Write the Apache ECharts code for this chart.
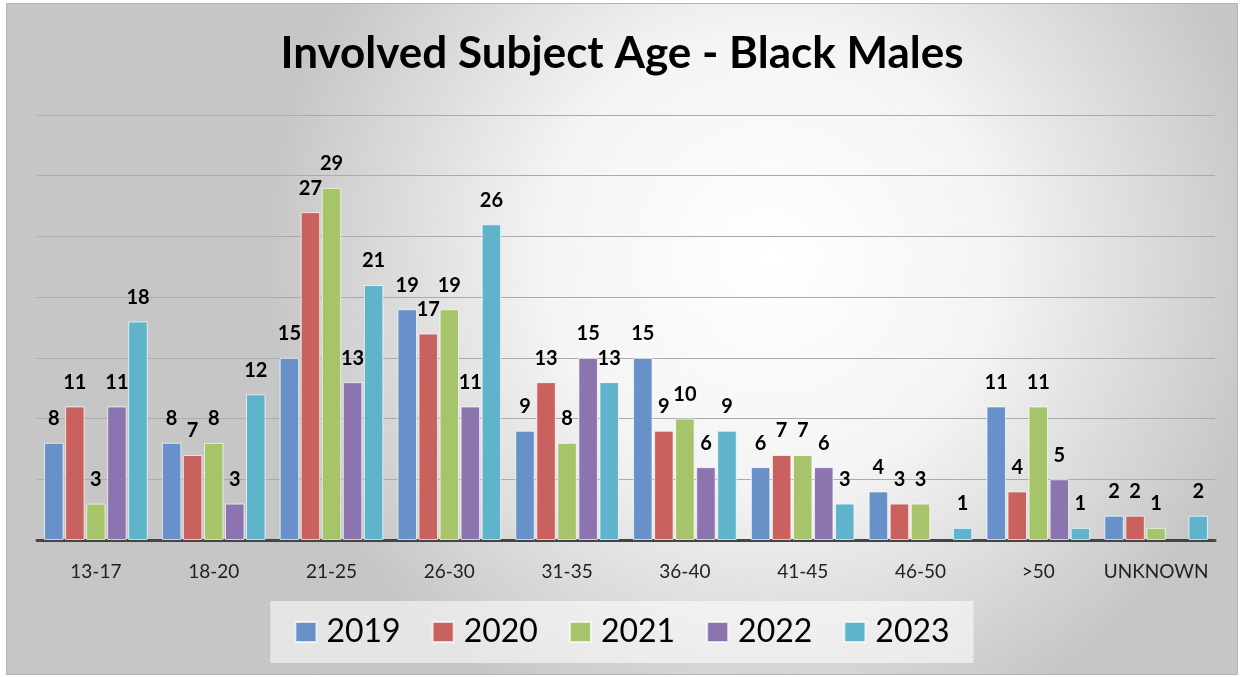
<!DOCTYPE html>
<html>
<head>
<meta charset="utf-8">
<script src="https://cdn.jsdelivr.net/npm/echarts@6/dist/echarts.min.js"></script>
<style>
  html, body { margin: 0; padding: 0; background: #ffffff; }
  #chart { width: 1244px; height: 677px; }
</style>
</head>
<body>
<div id="chart"></div>
<script>
// age groups on the x axis
const ageGroups = ['13-17', '18-20', '21-25', '26-30', '31-35', '36-40', '41-45', '46-50', '>50', 'UNKNOWN'];
const years = ['2019', '2020', '2021', '2022', '2023'];

// counts per year (null = no bar)
const y2019 = [8, 8, 15, 19, 9, 15, 6, 4, 11, 2];
const y2020 = [11, 7, 27, 17, 13, 9, 7, 3, 4, 2];
const y2021 = [3, 8, 29, 19, 8, 10, 7, 3, 11, 1];
const y2022 = [11, 3, 13, 11, 15, 6, 6, null, 5, null];
const y2023 = [18, 12, 21, 26, 13, 9, 3, 1, 1, 2];

const yearColors = ['#6791c8', '#c9625f', '#a6c46a', '#8c74ae', '#5fb4cb'];
const allValues = [y2019, y2020, y2021, y2022, y2023];

let chart = echarts.init(document.getElementById('chart'));

const series = years.map((name, i) => ({
    name: name,
    type: 'bar',
    data: allValues[i],
    barGap: '8%',
    barCategoryGap: '12%',
    itemStyle: {
        color: yearColors[i],
        borderColor: 'rgba(255,255,255,0.7)',
        borderWidth: 1
    },
    label: {
        show: true,
        position: 'top',
        distance: 14,
        color: '#000',
        fontFamily: 'Lato',
        fontWeight: 'bold',
        fontSize: 20
    }
}));

chart.setOption({
    animation: false,
    // frame with the soft grey radial background
    graphic: [{
        type: 'rect',
        z: -10,
        silent: true,
        shape: { x: 6.5, y: 3.5, width: 1231, height: 671 },
        style: {
            fill: {
                type: 'radial', x: 0.62, y: 0.38, r: 0.75,
                colorStops: [
                    { offset: 0, color: '#ffffff' },
                    { offset: 0.45, color: '#f4f4f4' },
                    { offset: 1, color: '#c6c6c6' }
                ]
            },
            stroke: '#b4b4b4',
            lineWidth: 1
        }
    }],
    title: {
        text: 'Involved Subject Age - Black Males',
        left: 'center',
        top: 27,
        textStyle: {
            fontFamily: 'Lato',
            fontWeight: 'bold',
            fontSize: 44,
            color: '#000'
        }
    },
    legend: {
        data: years,
        bottom: 14,
        left: 'center',
        itemWidth: 21,
        itemHeight: 20,
        itemGap: 31,
        padding: [15, 24, 15, 24],
        backgroundColor: 'rgba(255,255,255,0.55)',
        icon: 'rect',
        textStyle: {
            fontFamily: 'Lato',
            fontSize: 32,
            color: '#000',
            padding: [0, 0, 0, 5]
        }
    },
    grid: {
        left: 37,
        right: 29,
        top: 115,
        bottom: 137
    },
    xAxis: {
        type: 'category',
        data: ageGroups,
        axisLine: { lineStyle: { color: '#454545', width: 3 } },
        axisTick: { show: false },
        axisLabel: {
            interval: 0,
            fontFamily: 'Lato',
            fontSize: 19,
            color: '#222',
            margin: 22
        }
    },
    yAxis: {
        type: 'value',
        min: 0,
        max: 35,
        interval: 5,
        axisLabel: { show: false },
        axisLine: { show: false },
        axisTick: { show: false },
        splitLine: { lineStyle: { color: '#ababab', width: 1 } }
    },
    series: series
});
</script>
</body>
</html>
